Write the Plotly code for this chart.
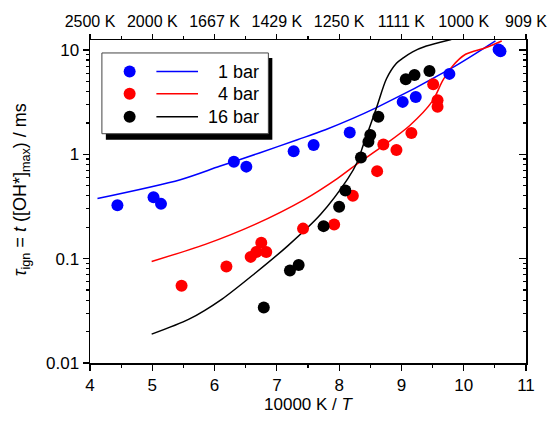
import plotly.graph_objects as go

# ---------------- data ----------------
blue_x = [4.44, 5.02, 5.14, 6.31, 6.51, 7.27, 7.59, 8.17, 9.02, 9.23, 9.77, 10.56, 10.59]
blue_y = [0.325, 0.387, 0.335, 0.85, 0.762, 1.07, 1.23, 1.62, 3.18, 3.55, 5.9, 10.1, 9.7]

red_x = [5.47, 6.19, 6.58, 6.67, 6.75, 6.83, 7.42, 7.92, 8.22, 8.61, 8.71, 8.92, 9.16, 9.51, 9.58, 9.58]
red_y = [0.055, 0.084, 0.104, 0.116, 0.142, 0.116, 0.194, 0.213, 0.40, 0.69, 1.24, 1.10, 1.60, 4.69, 3.30, 2.85]

black_x = [6.79, 7.21, 7.35, 7.75, 8.00, 8.10, 8.35, 8.47, 8.50, 8.63, 9.07, 9.21, 9.45]
black_y = [0.034, 0.077, 0.087, 0.205, 0.314, 0.45, 0.93, 1.32, 1.53, 2.29, 5.24, 5.75, 6.3]

line1_x = [4.12, 5.45, 6.08, 6.72, 7.33, 7.78, 8.60, 9.82, 10.51]
line1_y = [0.377, 0.571, 0.767, 1.03, 1.38, 1.72, 2.8, 6.76, 12.2]

line4_x = [4.99, 5.85, 6.65, 7.44, 7.97, 8.29, 8.71, 9.13, 9.50, 9.66, 9.82, 10.03, 10.35, 10.61]
line4_y = [0.094, 0.137, 0.213, 0.368, 0.585, 0.81, 1.21, 1.88, 3.25, 5.05, 7.0, 9.1, 10.5, 12.2]

line16_x = [4.99, 5.59, 6.12, 6.65, 7.17, 7.70, 8.14, 8.29, 8.39, 8.60, 8.76, 8.92, 9.03, 9.18, 9.40, 9.80]
line16_y = [0.0189, 0.0263, 0.041, 0.0725, 0.132, 0.265, 0.585, 0.84, 1.24, 2.8, 5.3, 7.45, 8.4, 9.6, 10.9, 12.6]

x_ticks = [4, 5, 6, 7, 8, 9, 10, 11]
top_labels = ["2500 K", "2000 K", "1667 K", "1429 K", "1250 K", "1111 K", "1000 K", "909 K"]
y_ticks = [0.01, 0.1, 1, 10]
y_labels = ["0.01", "0.1", "1", "10"]
legend_labels = ["1 bar", "4 bar", "16 bar"]
colors = ["#0000ff", "#ff0000", "#000000"]
y_title = "<i>τ</i><sub>ign</sub> = <i>t</i> ([OH*]<sub>max</sub>) / ms"

FONT = "Liberation Sans, Arial, sans-serif"

fig = go.Figure()

for xs, ys, c in [(line1_x, line1_y, colors[0]), (line4_x, line4_y, colors[1]), (line16_x, line16_y, colors[2])]:
    fig.add_trace(go.Scatter(x=xs, y=ys, mode="lines", line=dict(color=c, width=1.5, shape="spline", smoothing=0.8),
                             showlegend=False, hoverinfo="skip"))

for xs, ys, c in [(blue_x, blue_y, colors[0]), (red_x, red_y, colors[1]), (black_x, black_y, colors[2])]:
    fig.add_trace(go.Scatter(x=xs, y=ys, mode="markers", marker=dict(color=c, size=12, line=dict(width=0)),
                             showlegend=False))

# dummy traces so the top and right axes are drawn
fig.add_trace(go.Scatter(x=x_ticks, y=[None] * len(x_ticks), xaxis="x2", yaxis="y", showlegend=False,
                         hoverinfo="skip"))
fig.add_trace(go.Scatter(x=x_ticks, y=[None] * len(x_ticks), xaxis="x", yaxis="y2", showlegend=False,
                         hoverinfo="skip"))

minor_y = [m * 10 ** e for e in (-2, -1, 0, 1) for m in range(2, 10)]
yr = [-2, 1.0955]

fig.update_layout(
    width=559, height=423,
    margin=dict(l=90, r=29, t=40, b=59),
    paper_bgcolor="white", plot_bgcolor="white",
    font=dict(family=FONT, size=17, color="black"),
    xaxis=dict(range=[4, 11], tickvals=x_ticks, ticks="outside", ticklen=6, tickwidth=1.2, tickcolor="black",
               minor=dict(dtick=0.5, tick0=4, ticks="outside", ticklen=3, tickcolor="black"),
               showline=True, linecolor="black", linewidth=1.5, showgrid=False, zeroline=False,
               tickfont=dict(size=17),
               title=dict(text="10000 K / <i>T</i>", font=dict(size=17), standoff=4)),
    xaxis2=dict(overlaying="x", side="top", anchor="y", range=[4, 11], tickvals=x_ticks, ticktext=top_labels,
                ticks="outside", ticklen=5, tickwidth=1.2, tickcolor="black",
                minor=dict(dtick=0.5, tick0=4, ticks="outside", ticklen=3, tickcolor="black"),
                showline=True, linecolor="black", linewidth=1.5, showgrid=False, zeroline=False,
                tickfont=dict(size=16)),
    yaxis=dict(type="log", range=yr, tickvals=y_ticks, ticktext=y_labels, ticks="outside", ticklen=6,
               tickwidth=1.2, tickcolor="black",
               minor=dict(tickvals=minor_y, ticks="outside", ticklen=3, tickcolor="black"),
               showline=True, linecolor="black", linewidth=1.5, showgrid=False, zeroline=False,
               tickfont=dict(size=17)),
    yaxis2=dict(type="log", overlaying="y", side="right", anchor="x", range=yr, tickvals=y_ticks,
                showticklabels=False, ticks="inside", ticklen=7, tickwidth=1.2, tickcolor="black",
                minor=dict(tickvals=minor_y, ticks="inside", ticklen=3, tickcolor="black"),
                showline=True, linecolor="black", linewidth=1.5, showgrid=False, zeroline=False),
    showlegend=False,
    hovermode=False,
)


# ---------------- hand-drawn legend (box with drop shadow) ----------------
def px_x(p):
    return (p - 90) / 440.0


def px_y(p):
    return (364 - p) / 324.0


shapes = [
    dict(type="rect", xref="paper", yref="paper", x0=px_x(106), x1=px_x(274), y0=px_y(140), y1=px_y(58),
         fillcolor="black", line=dict(width=0), layer="above"),
    dict(type="rect", xref="paper", yref="paper", x0=px_x(102), x1=px_x(270), y0=px_y(134), y1=px_y(53),
         fillcolor="white", line=dict(color="#444444", width=1), layer="above"),
]
annotations = [
    dict(xref="paper", yref="paper", x=px_x(21), y=px_y(190), text=y_title, textangle=-90, showarrow=False,
         xanchor="center", yanchor="middle", font=dict(size=18, family=FONT, color="black")),
]
rows = [71.7, 93.8, 117.0]
for row, c, lab in zip(rows, colors, legend_labels):
    yy = px_y(row)
    shapes.append(dict(type="circle", xref="paper", yref="paper", xsizemode="pixel", ysizemode="pixel",
                       xanchor=px_x(130), yanchor=yy, x0=-6, x1=6, y0=-6, y1=6,
                       fillcolor=c, line=dict(width=0), layer="above"))
    shapes.append(dict(type="line", xref="paper", yref="paper", x0=px_x(157), x1=px_x(199), y0=yy, y1=yy,
                       line=dict(color=c, width=1.5), layer="above"))
    annotations.append(dict(xref="paper", yref="paper", x=px_x(263), y=yy, text=lab, showarrow=False,
                            xanchor="right", yanchor="middle", font=dict(size=18, family=FONT, color="black")))

fig.update_layout(shapes=shapes, annotations=annotations)

fig.write_html("out.html", config={"displayModeBar": False, "staticPlot": True},
               post_script="document.body.style.margin='0px';document.body.style.overflow='hidden';")
